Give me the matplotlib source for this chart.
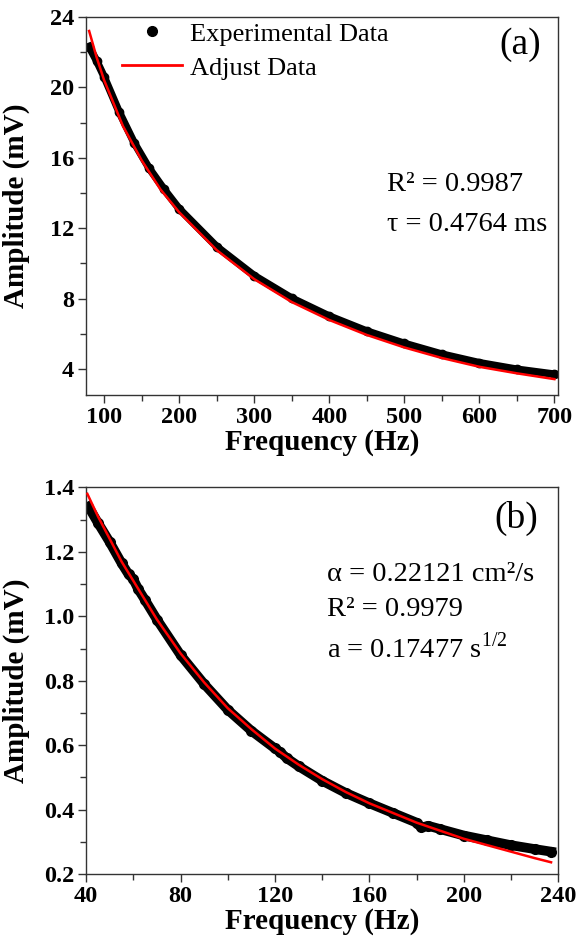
import matplotlib
matplotlib.use('Agg')
import matplotlib.pyplot as plt
from matplotlib.ticker import MultipleLocator

plt.rcParams['font.family'] = ['Liberation Serif', 'DejaVu Serif']
plt.rcParams['mathtext.fontset'] = 'custom'
plt.rcParams['mathtext.rm'] = 'Liberation Serif'

# panel (a): amplitude vs frequency, 80-700 Hz
freq_a = [80, 90, 100, 120, 140, 160, 180, 200, 250, 300, 350, 400,
          450, 500, 550, 600, 650, 700]
amp_a_exp = [22.3, 21.5, 20.6, 18.6, 16.85, 15.4, 14.2, 13.1, 10.95, 9.3,
             8.02, 7.0, 6.15, 5.45, 4.84, 4.35, 3.98, 3.7]
freq_a_fit = [80, 90, 100, 125, 150, 175, 200, 250, 300, 350, 400, 450,
              500, 550, 600, 650, 700]
amp_a_fit = [23.2, 21.7, 20.4, 17.8, 15.85, 14.2, 12.9, 10.75, 9.1, 7.8,
             6.78, 5.93, 5.22, 4.62, 4.12, 3.75, 3.42]

# panel (b): amplitude vs frequency, 40-240 Hz
freq_b = [41, 45, 50, 55, 58, 60, 62, 65, 70, 80, 90, 100, 110, 120, 122,
          125, 130, 140, 150, 160, 170, 180, 182, 185, 190, 200, 210, 220,
          230, 237]
amp_b_exp = [1.34, 1.29, 1.23, 1.165, 1.13, 1.115, 1.085, 1.05, 0.99, 0.88,
             0.79, 0.71, 0.645, 0.59, 0.58, 0.56, 0.535, 0.49, 0.452, 0.42,
             0.39, 0.36, 0.345, 0.35, 0.34, 0.32, 0.305, 0.29, 0.278, 0.27]
freq_b_fit = [40.5, 45, 50, 55, 60, 65, 70, 80, 90, 100, 110, 120, 130, 140,
              150, 160, 170, 180, 190, 200, 210, 220, 230, 237]
amp_b_fit = [1.38, 1.31, 1.24, 1.17, 1.11, 1.05, 0.99, 0.885, 0.795, 0.715,
             0.65, 0.59, 0.54, 0.495, 0.455, 0.42, 0.39, 0.36, 0.335, 0.31,
             0.29, 0.27, 0.25, 0.237]

fig = plt.figure(figsize=(5.82, 9.39), dpi=100)
ax1 = fig.add_axes([0.148, 0.579, 0.811, 0.403])
ax2 = fig.add_axes([0.148, 0.069, 0.811, 0.412])

label_font = {'size': 21, 'weight': 'bold'}


def style_axes(ax):
    for sp in ax.spines.values():
        sp.set_color('#333333')
        sp.set_linewidth(1.0)
    ax.tick_params(which='both', direction='out', top=False, right=False,
                   color='#333333', width=1.0)
    ax.tick_params(which='major', length=6, pad=2.5)
    ax.tick_params(which='minor', length=4)
    for lab in ax.get_xticklabels() + ax.get_yticklabels():
        lab.set_fontsize(17.5)
        lab.set_fontweight('bold')


# ---- top panel ----
ax1.plot(freq_a, amp_a_exp, 'o-', color='black', lw=5.5, ms=6,
         zorder=2)
ax1.plot(freq_a_fit, amp_a_fit, '-', color='red', lw=1.8, zorder=3)
ax1.set_xlim(76, 705)
ax1.set_ylim(2.5, 24)
ax1.xaxis.set_major_locator(MultipleLocator(100))
ax1.xaxis.set_minor_locator(MultipleLocator(50))
ax1.yaxis.set_major_locator(MultipleLocator(4))
ax1.yaxis.set_minor_locator(MultipleLocator(2))
style_axes(ax1)
ax1.set_xlabel('Frequency (Hz)', fontdict=label_font, labelpad=0.5)
ax1.set_ylabel('Amplitude (mV)', fontdict=label_font)
ax1.yaxis.set_label_coords(-0.119, 0.5)

h_exp = plt.Line2D([], [], marker='o', ls='none', color='black', ms=7)
h_fit = plt.Line2D([], [], color='red', lw=2)
ax1.legend([h_exp, h_fit], ['Experimental Data', 'Adjust Data'],
           loc='upper left', bbox_to_anchor=(0.064, 1.0), frameon=False,
           fontsize=19, handlelength=2.3, handletextpad=0.3,
           labelspacing=0.4, borderaxespad=0.1, borderpad=0.1)

ax1.text(0.919, 0.926, '(a)', transform=ax1.transAxes, fontsize=27,
         ha='center', va='center')
ax1.text(0.638, 0.556, 'R\u00b2 = 0.9987', transform=ax1.transAxes,
         fontsize=20.5, ha='left', va='center')
ax1.text(0.638, 0.452, '\u03c4 = 0.4764 ms', transform=ax1.transAxes,
         fontsize=20.5, ha='left', va='center')

# ---- bottom panel ----
ax2.plot(freq_b, amp_b_exp, 'o-', color='black', lw=7, ms=7, zorder=2)
ax2.plot(freq_b_fit, amp_b_fit, '-', color='red', lw=1.8, zorder=3)
ax2.set_xlim(40, 240)
ax2.set_ylim(0.2, 1.4)
ax2.xaxis.set_major_locator(MultipleLocator(40))
ax2.xaxis.set_minor_locator(MultipleLocator(20))
ax2.yaxis.set_major_locator(MultipleLocator(0.2))
ax2.yaxis.set_minor_locator(MultipleLocator(0.1))
style_axes(ax2)
ax2.set_xlabel('Frequency (Hz)', fontdict=label_font, labelpad=0.5)
ax2.set_ylabel('Amplitude (mV)', fontdict=label_font)
ax2.yaxis.set_label_coords(-0.119, 0.5)

ax2.text(0.911, 0.920, '(b)', transform=ax2.transAxes, fontsize=27,
         ha='center', va='center')
ax2.text(0.511, 0.775, '\u03b1 = 0.22121 cm\u00b2/s', transform=ax2.transAxes,
         fontsize=20.5, ha='left', va='center')
ax2.text(0.511, 0.683, 'R\u00b2 = 0.9979', transform=ax2.transAxes,
         fontsize=20.5, ha='left', va='center')
ax2.text(0.511, 0.585, r'a = 0.17477 s$^{1/2}$', transform=ax2.transAxes,
         fontsize=20.5, ha='left', va='center')

fig.savefig('out.png', dpi=100)
